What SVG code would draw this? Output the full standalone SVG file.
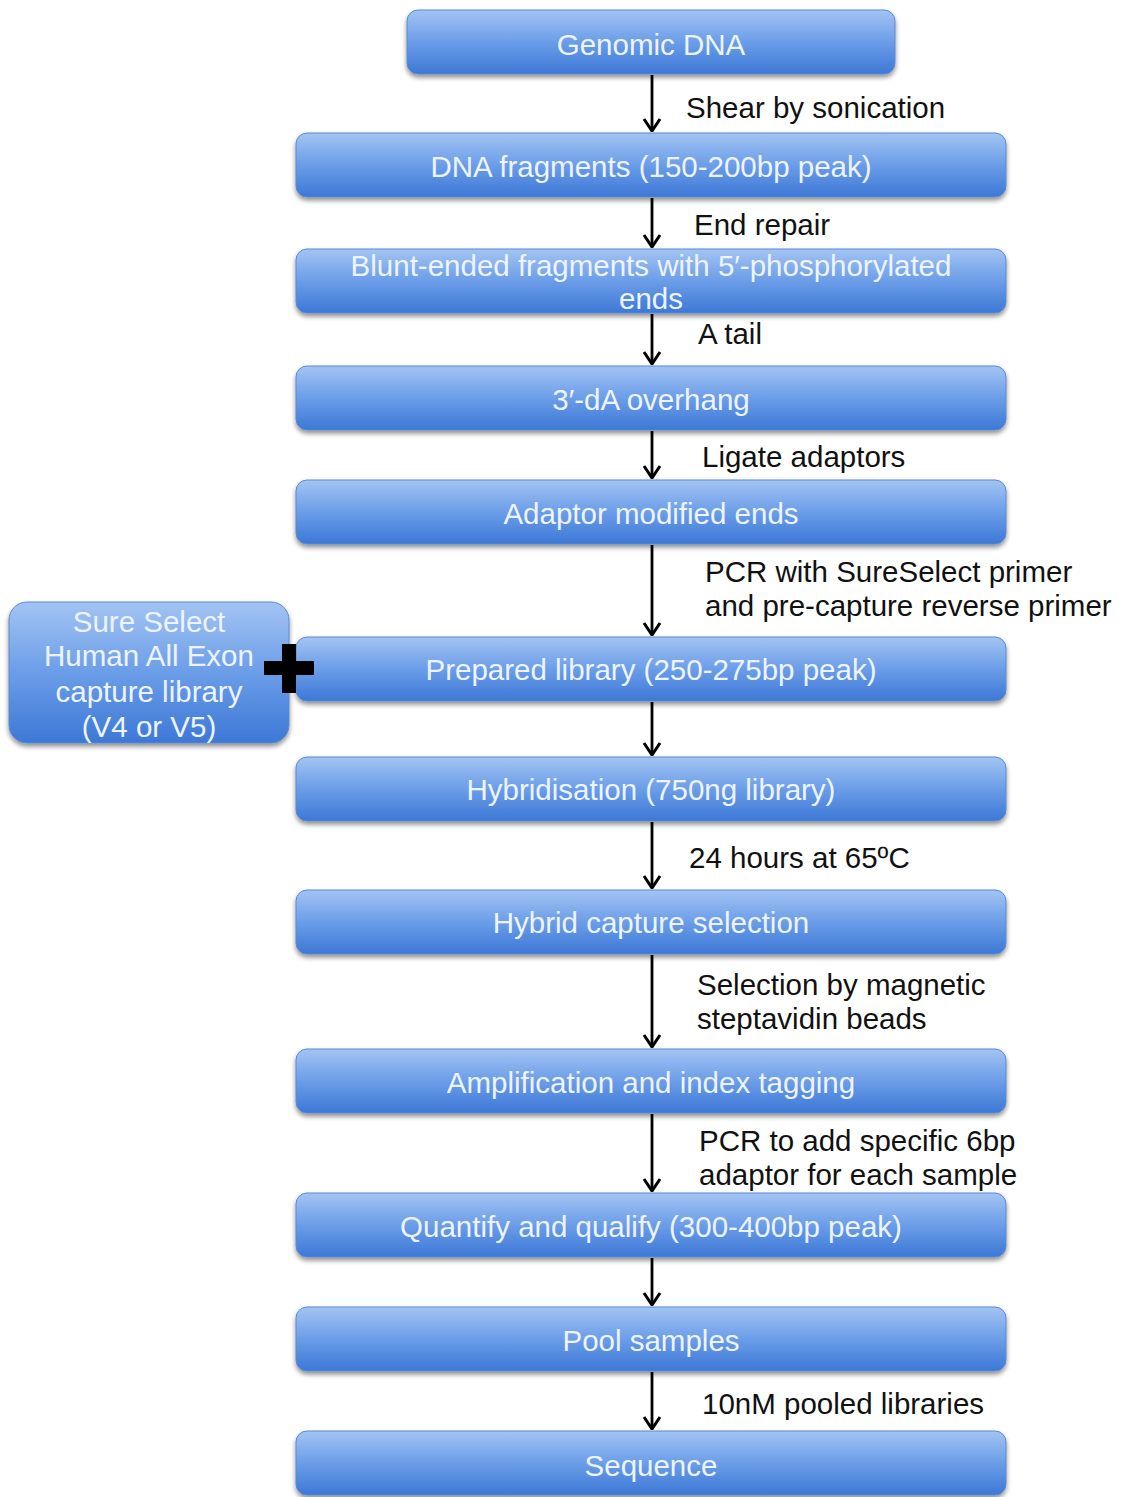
<svg xmlns="http://www.w3.org/2000/svg" width="1121" height="1497" viewBox="0 0 1121 1497">
<defs>
<linearGradient id="g" x1="0" y1="0" x2="0" y2="1">
<stop offset="0" stop-color="#a3c4f3"/>
<stop offset="0.5" stop-color="#6b9de8"/>
<stop offset="1" stop-color="#3d78d6"/>
</linearGradient>
<filter id="sh" x="-5%" y="-20%" width="110%" height="150%">
<feGaussianBlur in="SourceAlpha" stdDeviation="2.5"/>
<feOffset dy="3" result="b"/>
<feComponentTransfer><feFuncA type="linear" slope="0.45"/></feComponentTransfer>
<feMerge><feMergeNode/><feMergeNode in="SourceGraphic"/></feMerge>
</filter>
<marker id="ah" viewBox="0 0 14 20" refX="13" refY="10" markerWidth="14" markerHeight="20" markerUnits="userSpaceOnUse" orient="auto">
<path d="M1,2 L13,10 L1,18" fill="none" stroke="#000" stroke-width="3"/>
</marker>
</defs>
<style>
.box{fill:url(#g);stroke:#5b8ad0;stroke-width:1;filter:url(#sh)}
.bt{font-family:"Liberation Sans",Arial,sans-serif;font-size:29.5px;fill:#eef4ff;text-anchor:middle}
.lb{font-family:"Liberation Sans",Arial,sans-serif;font-size:29.5px;fill:#111}
.ar{stroke:#000;stroke-width:2.8;fill:none;marker-end:url(#ah)}
</style>
<rect width="1121" height="1497" fill="#fff"/>
<g id="connectors">
<line class="ar" x1="652" y1="75" x2="652" y2="131"/>
<line class="ar" x1="652" y1="198" x2="652" y2="247"/>
<line class="ar" x1="652" y1="314" x2="652" y2="364"/>
<line class="ar" x1="652" y1="431" x2="652" y2="478"/>
<line class="ar" x1="652" y1="545" x2="652" y2="635"/>
<line class="ar" x1="652" y1="702" x2="652" y2="755"/>
<line class="ar" x1="652" y1="822" x2="652" y2="888"/>
<line class="ar" x1="652" y1="955" x2="652" y2="1047"/>
<line class="ar" x1="652" y1="1114" x2="652" y2="1191"/>
<line class="ar" x1="652" y1="1258" x2="652" y2="1305"/>
<line class="ar" x1="652" y1="1372" x2="652" y2="1429"/>
</g>
<g id="labels">
<text class="lb" x="686" y="118">Shear by sonication</text>
<text class="lb" x="694" y="235">End repair</text>
<text class="lb" x="698" y="344">A tail</text>
<text class="lb" x="702" y="467">Ligate adaptors</text>
<text class="lb" x="705" y="582">PCR with SureSelect primer</text>
<text class="lb" x="705" y="616">and pre-capture reverse primer</text>
<text class="lb" x="689" y="868">24 hours at 65ºC</text>
<text class="lb" x="697" y="995">Selection by magnetic</text>
<text class="lb" x="697" y="1029">steptavidin beads</text>
<text class="lb" x="699" y="1151">PCR to add specific 6bp</text>
<text class="lb" x="699" y="1185">adaptor for each sample</text>
<text class="lb" x="702" y="1414">10nM pooled libraries</text>
</g>
<g id="n1"><rect class="box" x="407" y="10" width="488" height="64" rx="11"/><text class="bt" x="651" y="55">Genomic DNA</text></g>
<g id="n2"><rect class="box" x="296" y="133" width="710" height="64" rx="11"/><text class="bt" x="651" y="177">DNA fragments (150-200bp peak)</text></g>
<g id="n3"><rect class="box" x="296" y="249" width="710" height="64" rx="11"/><text class="bt" x="651" y="276">Blunt-ended fragments with 5′-phosphorylated</text><text class="bt" x="651" y="309">ends</text></g>
<g id="n4"><rect class="box" x="296" y="366" width="710" height="64" rx="11"/><text class="bt" x="651" y="410">3′-dA overhang</text></g>
<g id="n5"><rect class="box" x="296" y="480" width="710" height="64" rx="11"/><text class="bt" x="651" y="524">Adaptor modified ends</text></g>
<g id="n6"><rect class="box" x="296" y="637" width="710" height="64" rx="11"/><text class="bt" x="651" y="680">Prepared library (250-275bp peak)</text></g>
<g id="n7"><rect class="box" x="296" y="757" width="710" height="64" rx="11"/><text class="bt" x="651" y="800">Hybridisation (750ng library)</text></g>
<g id="n8"><rect class="box" x="296" y="890" width="710" height="64" rx="11"/><text class="bt" x="651" y="933">Hybrid capture selection</text></g>
<g id="n9"><rect class="box" x="296" y="1049" width="710" height="64" rx="11"/><text class="bt" x="651" y="1093">Amplification and index tagging</text></g>
<g id="n10"><rect class="box" x="296" y="1193" width="710" height="64" rx="11"/><text class="bt" x="651" y="1237">Quantify and qualify (300-400bp peak)</text></g>
<g id="n11"><rect class="box" x="296" y="1307" width="710" height="64" rx="11"/><text class="bt" x="651" y="1351">Pool samples</text></g>
<g id="n12"><rect class="box" x="296" y="1431" width="710" height="64" rx="11"/><text class="bt" x="651" y="1476">Sequence</text></g>
<g id="side"><rect class="box" x="9" y="602" width="280" height="141" rx="18"/>
<text class="bt" x="149" y="632">Sure Select</text>
<text class="bt" x="149" y="666">Human All Exon</text>
<text class="bt" x="149" y="702">capture library</text>
<text class="bt" x="149" y="737">(V4 or V5)</text></g>
<g id="plus"><path d="M282,644 h14 v17 h18 v14 h-18 v18 h-14 v-18 h-18 v-14 h18 z" fill="#000"/></g>
</svg>
